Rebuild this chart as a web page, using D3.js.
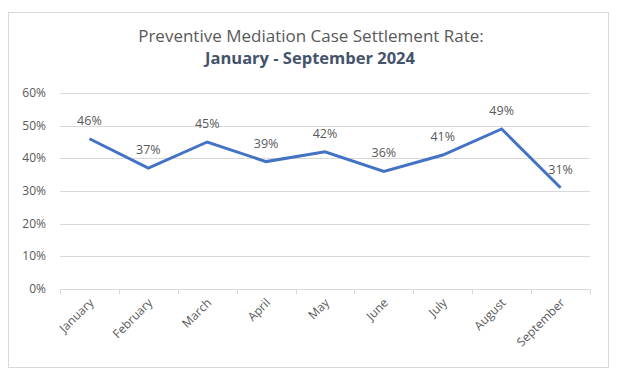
<!DOCTYPE html>
<html>
<head>
<meta charset="utf-8">
<script src="https://cdn.jsdelivr.net/npm/d3@7"></script>
<style>
  body { margin: 0; background: #fff; }
  text { font-family: "Open Sans", "Noto Sans", sans-serif; }
</style>
</head>
<body>
<script>
// settlement rate by month
var months = ["January", "February", "March", "April", "May", "June", "July", "August", "September"];
var rates = [0.46, 0.37, 0.45, 0.39, 0.42, 0.36, 0.41, 0.49, 0.31];
var yTicks = [0, 0.1, 0.2, 0.3, 0.4, 0.5, 0.6];

var width = 620, height = 375;
var margin = { top: 93, right: 30, bottom: 86, left: 60 };

var svg = d3.select("body").append("svg").attr("width", width).attr("height", height);

// chart border
svg.append("rect")
    .attr("x", 8.5).attr("y", 12.5)
    .attr("width", 600).attr("height", 355)
    .style("fill", "none")
    .style("stroke", "#d9d9d9");

// title
svg.append("text")
    .attr("x", 311).attr("y", 42)
    .attr("text-anchor", "middle")
    .style("font-size", "17px")
    .style("fill", "#595959")
    .text("Preventive Mediation Case Settlement Rate:");
svg.append("text")
    .attr("x", 310).attr("y", 64)
    .attr("text-anchor", "middle")
    .style("font-size", "16.5px")
    .style("font-weight", "bold")
    .style("fill", "#44546a")
    .text("January - September 2024");

var x = d3.scaleBand().domain(months).range([margin.left, width - margin.right]);
var y = d3.scaleLinear().domain([0, 0.6]).range([height - margin.bottom, margin.top]);

// gridlines
svg.append("g")
    .selectAll("line")
    .data(yTicks)
    .enter().append("line")
    .attr("x1", margin.left).attr("x2", width - margin.right)
    .attr("y1", function(d) { return Math.round(y(d)) + 0.5; })
    .attr("y2", function(d) { return Math.round(y(d)) + 0.5; })
    .style("stroke", "#d9d9d9");

// y labels
svg.append("g")
    .selectAll("text")
    .data(yTicks)
    .enter().append("text")
    .attr("x", 46)
    .attr("y", function(d) { return y(d) + 4; })
    .attr("text-anchor", "end")
    .style("font-size", "12px")
    .style("fill", "#595959")
    .text(function(d) { return d3.format(".0%")(d); });

// x axis ticks
var xa = svg.append("g").attr("transform", "translate(0," + (Math.round(y(0)) + 0.5) + ")");
var tickPos = months.map(function(m) { return x(m); }).concat([x.range()[1]]);
xa.selectAll("line")
    .data(tickPos)
    .enter().append("line")
    .attr("x1", function(d) { return Math.round(d) + 0.5; })
    .attr("x2", function(d) { return Math.round(d) + 0.5; })
    .attr("y1", 0).attr("y2", 5)
    .style("stroke", "#d9d9d9");

xa.selectAll("text")
    .data(months)
    .enter().append("text")
    .attr("transform", function(d) {
        return "translate(" + (x(d) + x.bandwidth() / 2 + 2) + ",11) rotate(-45)";
    })
    .attr("text-anchor", "end")
    .attr("dy", "0.35em")
    .style("font-size", "12px")
    .style("fill", "#595959")
    .text(function(d) { return d; });

// line
var line = d3.line()
    .x(function(d, i) { return x(months[i]) + x.bandwidth() / 2; })
    .y(function(d) { return y(d); });

svg.append("path")
    .datum(rates)
    .attr("d", line)
    .style("fill", "none")
    .style("stroke", "#4472c4")
    .style("stroke-width", 3)
    .style("stroke-linejoin", "miter");

// data labels
svg.append("g")
    .selectAll("text")
    .data(rates)
    .enter().append("text")
    .attr("x", function(d, i) { return x(months[i]) + x.bandwidth() / 2; })
    .attr("y", function(d) { return y(d) - 14; })
    .attr("text-anchor", "middle")
    .style("font-size", "12.5px")
    .style("fill", "#595959")
    .text(function(d) { return d3.format(".0%")(d); });
</script>
</body>
</html>
